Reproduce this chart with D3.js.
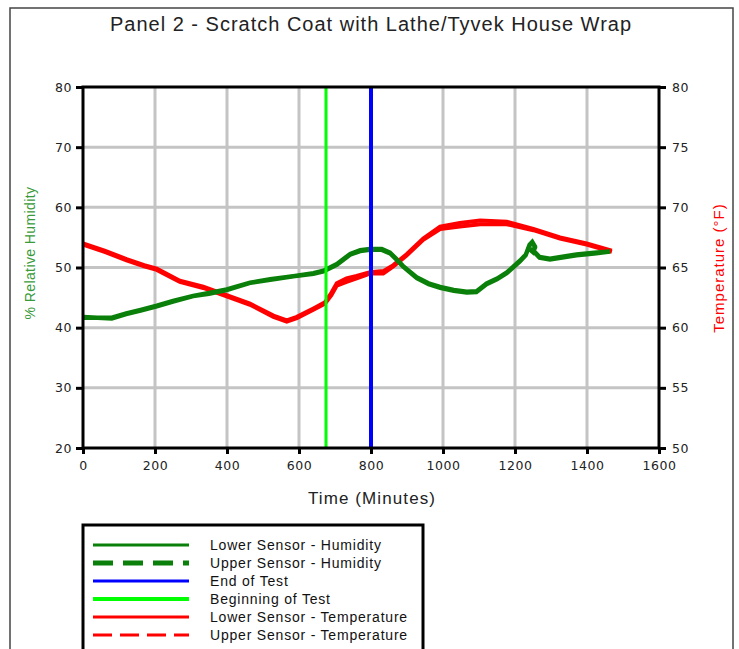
<!DOCTYPE html>
<html>
<head>
<meta charset="utf-8">
<script src="https://cdn.jsdelivr.net/npm/d3@7"></script>
<style>
  body { margin: 0; background: #fff; }
  text { font-family: "Liberation Sans", Arial, sans-serif; }
</style>
</head>
<body>
<svg></svg>
<script>
// Chart data
var title = "Panel 2 - Scratch Coat with Lathe/Tyvek House Wrap"
var xTicks = [0, 200, 400, 600, 800, 1000, 1200, 1400, 1600]
var rhTicks = [20, 30, 40, 50, 60, 70, 80]
var tempTicks = [50, 55, 60, 65, 70, 75, 80]

// Humidity (% RH) against time in minutes
var humTime = [0, 40, 80, 120, 160, 205, 250, 306, 350, 399, 464, 520, 584, 640, 668, 705, 742, 770, 797, 830, 853, 870, 889, 927, 960, 992, 1030, 1066, 1093, 1121, 1150, 1177, 1214, 1230, 1240, 1248, 1256, 1250, 1242, 1252, 1268, 1297, 1340, 1371, 1420, 1464]
var humLower = [41.6, 41.6, 41.5, 42.2, 42.8, 43.5, 44.3, 45.2, 45.6, 46.2, 47.4, 47.9, 48.5, 48.9, 49.3, 50.4, 52.1, 52.7, 52.9, 52.9, 52.3, 51.3, 50.1, 48.2, 47.2, 46.6, 46.1, 45.8, 45.9, 47.2, 48.0, 49.0, 51.0, 52.0, 53.6, 54.1, 53.3, 52.5, 52.9, 52.6, 51.6, 51.3, 51.7, 52.0, 52.3, 52.6]
var humUpper = [41.8, 41.7, 41.7, 42.4, 43.0, 43.7, 44.5, 45.3, 45.8, 46.4, 47.5, 48.1, 48.6, 49.1, 49.5, 50.6, 52.3, 52.9, 53.1, 53.1, 52.5, 51.5, 50.3, 48.4, 47.4, 46.8, 46.3, 46.0, 46.1, 47.4, 48.2, 49.2, 51.2, 52.2, 53.8, 54.3, 53.5, 52.7, 53.1, 52.8, 51.8, 51.5, 51.9, 52.2, 52.5, 52.7]

// Temperature (°F) against time in minutes
var tempTime = [0, 60, 121, 170, 205, 269, 334, 399, 464, 529, 566, 594, 640, 672, 690, 705, 732, 760, 797, 834, 862, 899, 945, 992, 1047, 1103, 1177, 1251, 1325, 1399, 1469]
var tempLower = [66.9, 66.3, 65.6, 65.1, 64.8, 63.8, 63.3, 62.6, 61.9, 60.9, 60.5, 60.8, 61.5, 62.0, 62.7, 63.5, 63.8, 64.1, 64.5, 64.5, 65.1, 66.0, 67.3, 68.2, 68.4, 68.6, 68.6, 68.1, 67.4, 66.9, 66.3]
var tempUpper = [67.0, 66.4, 65.7, 65.2, 64.9, 63.9, 63.4, 62.7, 62.0, 61.0, 60.6, 60.9, 61.6, 62.1, 62.9, 63.7, 64.1, 64.3, 64.6, 64.7, 65.2, 66.1, 67.4, 68.4, 68.7, 68.9, 68.8, 68.2, 67.5, 67.0, 66.4]

// Test markers (minutes)
var beginTest = 675
var endTest = 800

var legendLabels = ["Lower Sensor - Humidity", "Upper Sensor - Humidity", "End of Test",
                    "Beginning of Test", "Lower Sensor - Temperature", "Upper Sensor - Temperature"]

var width = 739,
    height = 649

var svg = d3.select("svg")
    .attr("width", width)
    .attr("height", height)

var darkGreen = "#0a800a",
    lime = "#00ff00",
    blue = "#0000ff",
    red = "#ff0000",
    grid = "#c4c4c4"

// Outer frame
svg.append("rect")
    .attr("x", 10).attr("y", 8)
    .attr("width", 723).attr("height", 680)
    .style("fill", "none")
    .style("stroke", "#444")
    .style("stroke-width", 1.5)

// Plot area
var plotLeft = 83, plotRight = 659, plotTop = 87, plotBottom = 448

var x = d3.scaleLinear().domain([0, 1600]).range([plotLeft, plotRight])
var yRh = d3.scaleLinear().domain([20, 80]).range([plotBottom, plotTop])
var yTemp = d3.scaleLinear().domain([50, 80]).range([plotBottom, plotTop])

// Gridlines
svg.append("g")
    .selectAll("line")
    .data(xTicks.slice(1, -1))
    .enter().append("line")
    .attr("x1", x).attr("x2", x)
    .attr("y1", plotTop).attr("y2", plotBottom)
    .style("stroke", grid).style("stroke-width", 3)

svg.append("g")
    .selectAll("line")
    .data(rhTicks.slice(1, -1))
    .enter().append("line")
    .attr("x1", plotLeft).attr("x2", plotRight)
    .attr("y1", yRh).attr("y2", yRh)
    .style("stroke", grid).style("stroke-width", 3)

// Axes
function styleAxis(g) {
    g.select(".domain").remove()
    g.selectAll(".tick line").style("stroke", "#000").style("stroke-width", 3)
    g.selectAll(".tick text")
        .style("font-family", "'DejaVu Sans', sans-serif")
        .style("font-size", "12.5px")
        .style("letter-spacing", "0.5px")
        .style("fill", "#222")
}

svg.append("g")
    .attr("transform", "translate(0," + plotBottom + ")")
    .call(d3.axisBottom(x).tickValues(xTicks).tickFormat(d3.format("d")).tickSize(6).tickPadding(7))
    .call(styleAxis)

svg.append("g")
    .attr("transform", "translate(" + plotLeft + ",0)")
    .call(d3.axisLeft(yRh).tickValues(rhTicks).tickSize(7).tickPadding(4))
    .call(styleAxis)

svg.append("g")
    .attr("transform", "translate(" + plotRight + ",0)")
    .call(d3.axisRight(yTemp).tickValues(tempTicks).tickSize(7).tickPadding(6))
    .call(styleAxis)

// Series lines
var humLine = d3.line()
    .x(function(d) { return x(d[0]) })
    .y(function(d) { return yRh(d[1]) })

var tempLine = d3.line()
    .x(function(d) { return x(d[0]) })
    .y(function(d) { return yTemp(d[1]) })

svg.append("path")
    .datum(d3.zip(tempTime, tempUpper))
    .attr("d", tempLine)
    .style("fill", "none").style("stroke", red).style("stroke-width", 4)

svg.append("path")
    .datum(d3.zip(tempTime, tempLower))
    .attr("d", tempLine)
    .style("fill", "none").style("stroke", red).style("stroke-width", 4)

svg.append("path")
    .datum(d3.zip(humTime, humUpper))
    .attr("d", humLine)
    .style("fill", "none").style("stroke", darkGreen).style("stroke-width", 4)

svg.append("path")
    .datum(d3.zip(humTime, humLower))
    .attr("d", humLine)
    .style("fill", "none").style("stroke", darkGreen).style("stroke-width", 4)

// Beginning / end of test markers
svg.append("line")
    .attr("x1", x(beginTest)).attr("x2", x(beginTest))
    .attr("y1", plotTop).attr("y2", plotBottom)
    .style("stroke", lime).style("stroke-width", 3)

svg.append("line")
    .attr("x1", x(endTest)).attr("x2", x(endTest))
    .attr("y1", plotTop).attr("y2", plotBottom)
    .style("stroke", blue).style("stroke-width", 4)

// Plot frame
svg.append("rect")
    .attr("x", plotLeft).attr("y", plotTop)
    .attr("width", plotRight - plotLeft).attr("height", plotBottom - plotTop)
    .style("fill", "none")
    .style("stroke", "#000")
    .style("stroke-width", 3)

// Titles
svg.append("text")
    .attr("x", 371).attr("y", 31)
    .attr("text-anchor", "middle")
    .style("font-size", "20px")
    .style("letter-spacing", "1px")
    .style("fill", "#222")
    .text(title)

svg.append("text")
    .attr("x", 372).attr("y", 504)
    .attr("text-anchor", "middle")
    .style("font-size", "17px")
    .style("letter-spacing", "1.1px")
    .style("fill", "#222")
    .text("Time (Minutes)")

svg.append("text")
    .attr("transform", "translate(35,253) rotate(-90)")
    .attr("text-anchor", "middle")
    .style("font-size", "14px")
    .style("letter-spacing", "0.4px")
    .style("fill", "#3a9a3a")
    .text("% Relative Humidity")

svg.append("text")
    .attr("transform", "translate(724,268) rotate(-90)")
    .attr("text-anchor", "middle")
    .style("font-size", "15px")
    .style("letter-spacing", "1px")
    .style("fill", red)
    .text("Temperature (°F)")

// Legend
svg.append("rect")
    .attr("x", 83).attr("y", 525)
    .attr("width", 340).attr("height", 160)
    .style("fill", "none")
    .style("stroke", "#000")
    .style("stroke-width", 3)

var legendStyles = [
    {color: darkGreen, width: 3, dash: null},
    {color: darkGreen, width: 5, dash: "20,10"},
    {color: blue, width: 3, dash: null},
    {color: lime, width: 4, dash: null},
    {color: red, width: 3, dash: null},
    {color: red, width: 3, dash: "19,8"}
]

var legend = svg.append("g")
    .selectAll("g")
    .data(legendLabels)
    .enter().append("g")
    .attr("transform", function(d, i) { return "translate(0," + (545 + i * 18) + ")" })

legend.append("line")
    .attr("x1", 93).attr("x2", 189)
    .style("stroke", function(d, i) { return legendStyles[i].color })
    .style("stroke-width", function(d, i) { return legendStyles[i].width })
    .style("stroke-dasharray", function(d, i) { return legendStyles[i].dash })

legend.append("text")
    .attr("x", 210)
    .attr("dy", "0.35em")
    .style("font-size", "14px")
    .style("letter-spacing", "0.8px")
    .style("fill", "#111")
    .text(function(d) { return d })
</script>
</body>
</html>
